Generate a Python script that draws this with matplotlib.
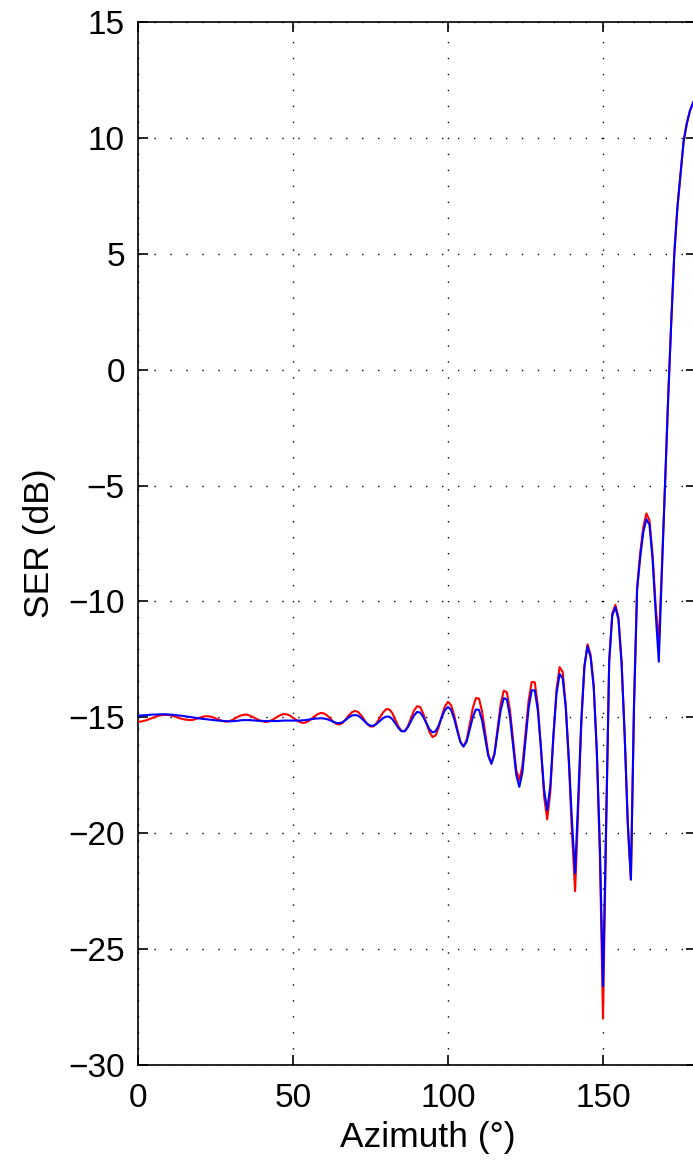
import numpy as np
import matplotlib
matplotlib.use("Agg")
import matplotlib.pyplot as plt

plt.rcParams['font.family'] = ['Liberation Sans', 'DejaVu Sans']

# azimuth in degrees, 1 degree step
azimuth = np.arange(0, 181)

# SER (dB), red curve
ser_red = [
    -15.19, -15.18, -15.15, -15.11, -15.06, -15.01, -14.96, -14.92, -14.90, -14.89,
    -14.90, -14.93, -14.97, -15.02, -15.06, -15.09, -15.11, -15.12, -15.10, -15.06,
    -15.01, -14.97, -14.95, -14.96, -14.99, -15.04, -15.10, -15.15, -15.18, -15.18,
    -15.14, -15.07, -14.99, -14.93, -14.89, -14.88, -14.92, -14.98, -15.05, -15.12,
    -15.17, -15.20, -15.19, -15.13, -15.06, -14.97, -14.90, -14.86, -14.87, -14.92,
    -15.02, -15.11, -15.19, -15.24, -15.23, -15.16, -15.06, -14.95, -14.86, -14.81,
    -14.83, -14.92, -15.05, -15.19, -15.29, -15.31, -15.24, -15.09, -14.92, -14.78,
    -14.72, -14.77, -14.92, -15.11, -15.30, -15.40, -15.39, -15.24, -15.02, -14.80,
    -14.65, -14.65, -14.81, -15.10, -15.39, -15.59, -15.60, -15.40, -15.06, -14.72,
    -14.52, -14.55, -14.83, -15.24, -15.63, -15.85, -15.78, -15.43, -14.94, -14.53,
    -14.33, -14.48, -14.92, -15.51, -16.05, -16.26, -15.98, -15.31, -14.60, -14.17,
    -14.19, -14.75, -15.68, -16.59, -17.00, -16.54, -15.47, -14.43, -13.85, -13.92,
    -14.70, -15.97, -17.26, -17.70, -17.10, -15.70, -14.28, -13.47, -13.49, -14.52,
    -16.37, -18.41, -19.40, -18.23, -15.82, -13.80, -12.83, -13.05, -14.50, -17.00,
    -20.00, -22.50, -19.00, -15.30, -12.80, -11.85, -12.30, -13.60, -16.50, -21.00,
    -28.00, -20.00, -12.50, -10.50, -10.15, -10.70, -12.60, -15.80, -19.60, -22.00,
    -14.50, -9.40, -7.90, -6.80, -6.20, -6.50, -8.00, -10.20, -11.80, -8.50,
    -5.00, -1.30, 2.00, 5.00, 7.00, 8.40, 9.85, 10.60, 11.15, 11.50,
    11.80,
]

# SER (dB), blue curve
ser_blue = [
    -14.93, -14.92, -14.91, -14.90, -14.89, -14.88, -14.88, -14.87, -14.87, -14.87,
    -14.88, -14.89, -14.90, -14.92, -14.93, -14.95, -14.97, -14.99, -15.01, -15.03,
    -15.05, -15.07, -15.08, -15.10, -15.11, -15.13, -15.14, -15.15, -15.16, -15.17,
    -15.17, -15.16, -15.15, -15.13, -15.12, -15.12, -15.12, -15.13, -15.14, -15.15,
    -15.15, -15.16, -15.16, -15.16, -15.16, -15.16, -15.15, -15.14, -15.14, -15.14,
    -15.14, -15.14, -15.14, -15.13, -15.12, -15.10, -15.08, -15.06, -15.05, -15.04,
    -15.05, -15.08, -15.13, -15.19, -15.24, -15.25, -15.21, -15.11, -15.00, -14.92,
    -14.90, -14.93, -15.03, -15.16, -15.29, -15.36, -15.36, -15.28, -15.16, -15.04,
    -14.97, -14.97, -15.07, -15.26, -15.46, -15.60, -15.60, -15.44, -15.19, -14.93,
    -14.77, -14.79, -14.98, -15.25, -15.51, -15.65, -15.60, -15.35, -14.99, -14.69,
    -14.55, -14.68, -15.07, -15.59, -16.07, -16.26, -16.05, -15.53, -14.99, -14.66,
    -14.68, -15.14, -15.90, -16.67, -17.00, -16.59, -15.62, -14.69, -14.17, -14.23,
    -14.99, -16.23, -17.47, -18.00, -17.38, -15.98, -14.61, -13.83, -13.84, -14.72,
    -16.36, -18.13, -19.00, -17.96, -15.80, -13.99, -13.13, -13.32, -14.61, -16.84,
    -19.50, -21.73, -18.51, -15.11, -12.81, -11.94, -12.40, -13.70, -16.40, -20.60,
    -26.60, -19.50, -12.60, -10.60, -10.25, -10.80, -12.70, -15.80, -19.60, -22.00,
    -14.50, -9.50, -8.10, -7.00, -6.45, -6.70, -8.20, -10.50, -12.60, -8.70,
    -5.00, -1.30, 2.00, 5.00, 7.00, 8.40, 9.85, 10.60, 11.15, 11.50,
    11.80,
]

x_ticks = [0, 50, 100, 150]
y_ticks = [-30, -25, -20, -15, -10, -5, 0, 5, 10, 15]

fig = plt.figure(figsize=(6.93, 11.62), dpi=100)
# axes runs a bit past the right edge of the picture
ax = fig.add_axes([138 / 693, 97 / 1162, 558 / 693, 1043 / 1162])

ax.plot(azimuth, ser_red, color='#ff0000', lw=1.5, zorder=3)
ax.plot(azimuth, ser_blue, color='#0000ff', lw=1.5, zorder=4)

ax.set_xlim(0, 180)
ax.set_ylim(-30, 15)
ax.set_xticks(x_ticks)
ax.set_yticks(y_ticks)

ax.grid(True, color='black', linestyle=(0, (1, 10.5)), linewidth=1.0)
ax.set_axisbelow(True)

for s in ax.spines.values():
    s.set_linewidth(1.2)

ax.tick_params(direction='in', top=True, right=True, length=7, width=1.2,
               labelsize=24, pad=9.5)
ax.tick_params(axis='x', pad=13)

ax.set_xlabel('Azimuth (°)', fontsize=25.5, labelpad=5, x=0.52)
ax.set_ylabel('SER (dB)', fontsize=25.5, labelpad=9)

fig.savefig('out.png', dpi=100)
